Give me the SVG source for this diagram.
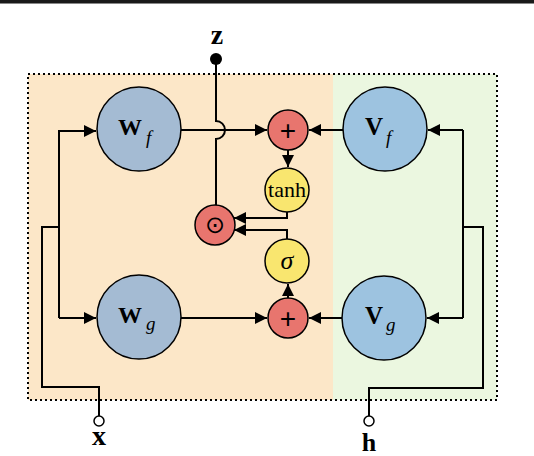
<svg xmlns="http://www.w3.org/2000/svg" width="534" height="456" viewBox="0 0 534 456">
<style>
.big{font-family:"Liberation Serif",serif;font-weight:bold;fill:#000}
.sub{font-family:"Liberation Serif",serif;font-style:italic;fill:#000}
.ln{fill:none;stroke:#000;stroke-width:2}
.nd{stroke:#000;stroke-width:1.5}
.w{fill:#A4BBD3}.v{fill:#9DC3E0}.r{fill:#E8756E}.y{fill:#F9E66F}
</style>
<defs>
<marker id="ah" markerUnits="userSpaceOnUse" markerWidth="13" markerHeight="12" refX="12" refY="6" orient="auto">
<path d="M0,0 L12,6 L0,12 z" fill="#000"/>
</marker>
</defs>
<rect x="0" y="0" width="534" height="456" fill="#fff"/>
<rect x="0" y="0" width="534" height="3" fill="#1a1a1a"/>
<rect x="0" y="3" width="534" height="1" fill="#888"/>
<rect x="28" y="74" width="305" height="326" fill="#FCE7C8"/>
<rect x="333" y="74" width="164" height="326" fill="#EBF7E0"/>
<rect x="28" y="74" width="469" height="326" fill="none" stroke="#000" stroke-width="2" stroke-dasharray="2 3"/>
<g id="connectors">
<path class="ln" d="M181,130 H267" marker-end="url(#ah)"/>
<path class="ln" d="M343,130 H309" marker-end="url(#ah)"/>
<path class="ln" d="M181,318 H267" marker-end="url(#ah)"/>
<path class="ln" d="M342,318 H309" marker-end="url(#ah)"/>
<path class="ln" d="M288,150 V167" marker-end="url(#ah)"/>
<path class="ln" d="M288,298 V284" marker-end="url(#ah)"/>
<path class="ln" d="M287,212 V218 H234" marker-end="url(#ah)"/>
<path class="ln" d="M287,239 V230 H234" marker-end="url(#ah)"/>
<path class="ln" d="M216,64 V121 A9,9 0 0 1 216,139 V205"/>
<path class="ln" d="M99,416 V387 H42 V227 H59"/>
<path class="ln" d="M59,130 V318"/>
<path class="ln" d="M59,131 H96" marker-end="url(#ah)"/>
<path class="ln" d="M59,318 H96" marker-end="url(#ah)"/>
<path class="ln" d="M369,416 V388 H483 V227 H463"/>
<path class="ln" d="M463,130 V318"/>
<path class="ln" d="M463,130 H428" marker-end="url(#ah)"/>
<path class="ln" d="M463,318 H427" marker-end="url(#ah)"/>
</g>
<g id="z">
<circle cx="216" cy="59" r="6" fill="#000"/>
<text class="big" x="217" y="43.5" font-size="28" text-anchor="middle">z</text>
</g>
<g id="x">
<circle cx="99" cy="421" r="5" fill="#fff" stroke="#000" stroke-width="1.5"/>
<text class="big" x="99" y="445" font-size="28" text-anchor="middle">x</text>
</g>
<g id="h">
<circle cx="369" cy="421" r="5" fill="#fff" stroke="#000" stroke-width="1.5"/>
<text class="big" x="369" y="451" font-size="26" text-anchor="middle">h</text>
</g>
<g id="Wf">
<circle class="nd w" cx="139" cy="129" r="42"/>
<text class="big" x="118" y="135" font-size="24">W<tspan class="sub" font-weight="normal" font-size="19" dx="4" dy="9">f</tspan></text>
</g>
<g id="Vf">
<circle class="nd v" cx="385" cy="129" r="42"/>
<text class="big" x="365" y="135" font-size="25">V<tspan class="sub" font-weight="normal" font-size="19" dx="3" dy="9">f</tspan></text>
</g>
<g id="Wg">
<circle class="nd w" cx="139" cy="317" r="42"/>
<text class="big" x="118" y="323" font-size="24">W<tspan class="sub" font-weight="normal" font-size="19" dx="4" dy="7">g</tspan></text>
</g>
<g id="Vg">
<circle class="nd v" cx="384" cy="318" r="42"/>
<text class="big" x="365" y="324" font-size="25">V<tspan class="sub" font-weight="normal" font-size="19" dx="3" dy="7">g</tspan></text>
</g>
<g id="plusTop">
<circle class="nd r" cx="288" cy="130" r="20"/>
<text x="288" y="140" font-family="Liberation Sans,sans-serif" font-size="28" text-anchor="middle">+</text>
</g>
<g id="tanh">
<circle class="nd y" cx="287" cy="190" r="22"/>
<text x="287" y="197" font-family="Liberation Serif,serif" font-size="22" text-anchor="middle">tanh</text>
</g>
<g id="odot">
<circle class="nd r" cx="215" cy="225" r="20"/>
<text x="215" y="233" font-family="DejaVu Sans,sans-serif" font-size="24" text-anchor="middle">⊙</text>
</g>
<g id="sigma">
<circle class="nd y" cx="287" cy="261" r="22"/>
<text x="287" y="269" font-family="Liberation Serif,serif" font-style="italic" font-size="26" text-anchor="middle">σ</text>
</g>
<g id="plusBottom">
<circle class="nd r" cx="288" cy="318" r="20"/>
<text x="288" y="328" font-family="Liberation Sans,sans-serif" font-size="28" text-anchor="middle">+</text>
</g>
</svg>
